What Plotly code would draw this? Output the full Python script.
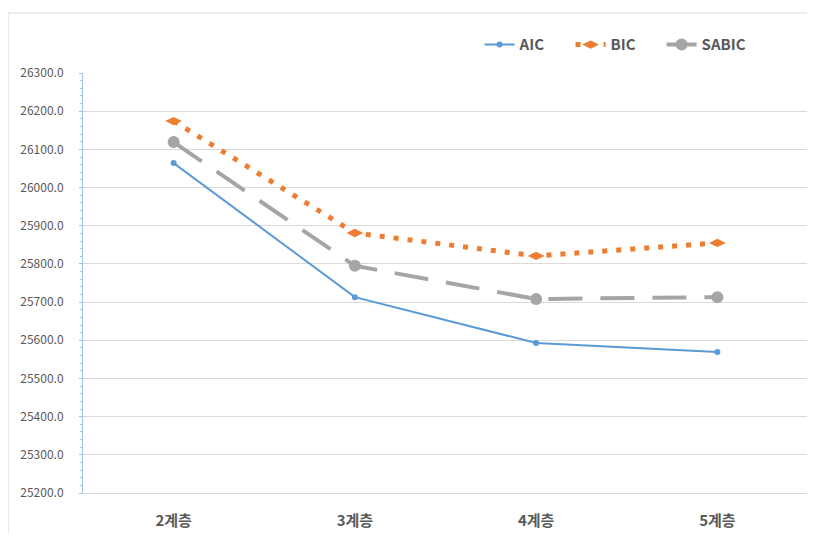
import plotly.graph_objects as go

categories = ["2계층", "3계층", "4계층", "5계층"]
aic = [26064, 25713, 25593, 25569]
bic = [26174, 25881, 25821, 25855]
sabic = [26119, 25795, 25708, 25713]
y_ticks = [25200 + 100 * i for i in range(12)]

fig = go.Figure()
fig.add_trace(go.Scatter(x=categories, y=aic, name="AIC", mode="lines+markers",
                         line=dict(color="#5B9BD5", width=2),
                         marker=dict(size=6, color="#5B9BD5")))
fig.add_trace(go.Scatter(x=categories, y=bic, name="BIC", mode="lines+markers",
                         line=dict(color="#ED7D31", width=5, dash="5px,9px"),
                         marker=dict(size=12, color="#ED7D31", symbol="diamond-wide")))
fig.add_trace(go.Scatter(x=categories, y=sabic, name="SABIC", mode="lines+markers",
                         line=dict(color="#A5A5A5", width=4, dash="34px,18px"),
                         marker=dict(size=12, color="#A5A5A5")))

fig.update_layout(
    width=800, height=525,
    margin=dict(l=75, r=0, t=65, b=40),
    paper_bgcolor="white", plot_bgcolor="white",
    font=dict(family="Noto Sans CJK KR, Noto Sans, sans-serif", color="#595959"),
    showlegend=True,
    legend=dict(orientation="h", x=0.547, y=1.067, xanchor="left", yanchor="middle",
                font=dict(size=15, color="#595959", family="Noto Sans CJK KR, sans-serif", weight="bold"),
                entrywidth=46, entrywidthmode="pixels", bgcolor="rgba(0,0,0,0)"),
    xaxis=dict(type="category", range=[-0.5, 3.5], showgrid=False, showline=True,
               linecolor="#D9D9D9", linewidth=1,
               tickfont=dict(size=15, color="#595959", weight="bold"), ticks="", ticklabelstandoff=14),
    yaxis=dict(range=[25200, 26300], tickvals=y_ticks, tickformat=".1f",
               showgrid=True, gridcolor="#D9D9D9", gridwidth=1,
               showline=True, linecolor="#9DC3E6", linewidth=1,
               ticks="outside", tickcolor="#9DC3E6", ticklen=3,
               minor=dict(dtick=20, ticks="outside", ticklen=2, tickcolor="#9DC3E6", showgrid=False),
               tickfont=dict(size=12, color="#595959"), ticklabelstandoff=13, zeroline=False),
    shapes=[
        dict(type="line", xref="paper", yref="paper", x0=-0.1034, x1=1.01, y0=1.1429, y1=1.1429,
             line=dict(color="#D9D9D9", width=1)),
        dict(type="line", xref="paper", yref="paper", x0=-0.1034, x1=-0.1034, y0=-0.12, y1=1.1429,
             line=dict(color="#D9D9D9", width=1)),
    ],
)

fig.write_html("out.html")
